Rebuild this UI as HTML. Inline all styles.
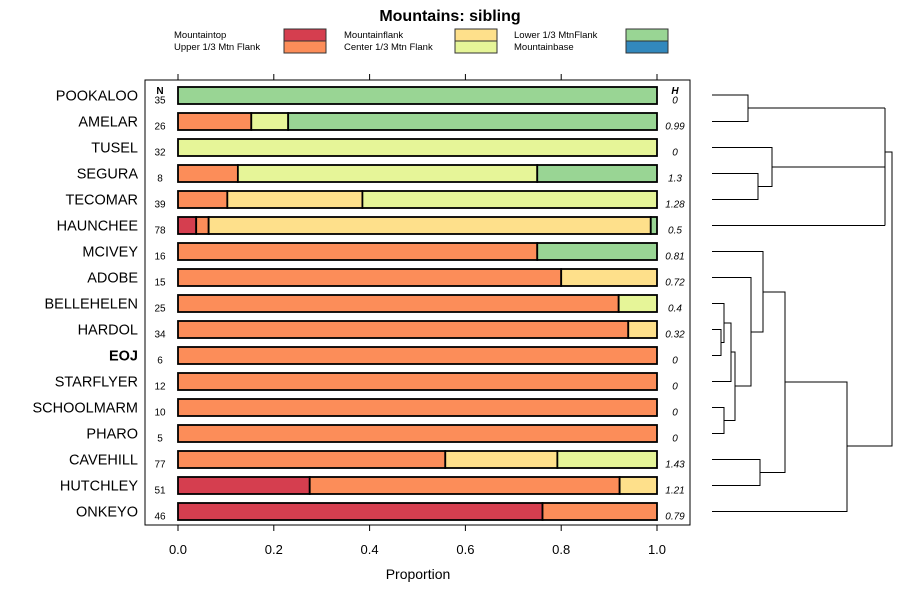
<!DOCTYPE html>
<html><head><meta charset="utf-8"><style>
body{margin:0;background:#fff;font-family:"Liberation Sans",sans-serif}
svg text{font-family:"Liberation Sans",sans-serif}
</style></head><body>
<svg id="c" width="900" height="600" xmlns="http://www.w3.org/2000/svg">
<text x="450" y="21" font-size="16" font-weight="bold" text-anchor="middle">Mountains: sibling</text>
<g id="legend"></g>
<rect x="145" y="80" width="545" height="445" fill="none" stroke="#000"/>
<g id="axis"></g>
<g id="bars"></g>
<g id="dendro" stroke="#000" fill="none" stroke-width="1"></g>
<text x="418" y="579" font-size="14" text-anchor="middle">Proportion</text>
<text x="160" y="94" font-size="10" font-weight="bold" text-anchor="middle">N</text>
<text x="675" y="94" font-size="10" font-weight="bold" font-style="italic" text-anchor="middle">H</text>
</svg>
<script>
const categories=["Mountaintop","Upper 1/3 Mtn Flank","Mountainflank","Center 1/3 Mtn Flank","Lower 1/3 MtnFlank","Mountainbase"];
const colors=["#d53e4f","#fc8d59","#fee08b","#e6f598","#99d594","#3288bd"];
const sites=["POOKALOO","AMELAR","TUSEL","SEGURA","TECOMAR","HAUNCHEE","MCIVEY","ADOBE","BELLEHELEN","HARDOL","EOJ","STARFLYER","SCHOOLMARM","PHARO","CAVEHILL","HUTCHLEY","ONKEYO"];
const nVals=[35,26,32,8,39,78,16,15,25,34,6,12,10,5,77,51,46];
const hVals=["0","0.99","0","1.3","1.28","0.5","0.81","0.72","0.4","0.32","0","0","0","0","1.43","1.21","0.79"];
const props=[
[0,0,0,0,1,0],
[0,.153,0,.077,.77,0],
[0,0,0,1,0,0],
[0,.125,0,.625,.25,0],
[0,.103,.282,.615,0,0],
[.038,.026,.923,0,.013,0],
[0,.75,0,0,.25,0],
[0,.8,.2,0,0,0],
[0,.92,0,.08,0,0],
[0,.94,.06,0,0,0],
[0,1,0,0,0,0],
[0,1,0,0,0,0],
[0,1,0,0,0,0],
[0,1,0,0,0,0],
[0,.558,.234,.208,0,0],
[.275,.647,.078,0,0,0],
[.761,.239,0,0,0,0]];
const xTicks=[0,0.2,0.4,0.6,0.8,1.0];
const NS="http://www.w3.org/2000/svg";
const X=v=>178+v*479;
const Y=i=>95.5+i*26;
function mk(tag,attrs,parent,txt){const e=document.createElementNS(NS,tag);for(const k in attrs)e.setAttribute(k,attrs[k]);if(txt!==undefined)e.textContent=txt;parent.appendChild(e);return e;}
const lg=document.getElementById('legend');
categories.forEach((c,i)=>{
 const col=Math.floor(i/2),row=i%2;
 const lx=174+col*170, ly=38+row*12;
 const t=mk('text',{x:lx,y:ly,'font-size':9.5},lg,c);
 
 
 const r=mk('rect',{x:284+col*171,y:29+row*12,width:42,height:12,fill:colors[i],stroke:'#333'},lg);
 
 
});
const ax=document.getElementById('axis');
xTicks.forEach(v=>{
 mk('line',{x1:X(v),x2:X(v),y1:525,y2:531,stroke:'#000'},ax);
 mk('line',{x1:X(v),x2:X(v),y1:74,y2:80,stroke:'#000'},ax);
 const t=mk('text',{x:X(v),y:554,'font-size':13,'text-anchor':'middle'},ax,v.toFixed(1));
 
 
});
const bg=document.getElementById('bars');
sites.forEach((s,i)=>{
 const y=Y(i);
 const l=mk('text',{x:138,y:y+5,'font-size':14.5,'text-anchor':'end','font-weight':s==='EOJ'?'bold':'normal'},bg,s);
 
 
 const n=mk('text',{x:160,y:y+8,'font-size':10,'text-anchor':'middle'},bg,nVals[i]);
 
 
 const h=mk('text',{x:675,y:y+8,'font-size':10,'font-style':'italic','text-anchor':'middle'},bg,hVals[i]);
 
 
 let acc=0;
 props[i].forEach((p,k)=>{
  if(p<=0)return;
  const r=mk('rect',{x:X(acc),y:y-8.5,width:X(acc+p)-X(acc),height:17,fill:colors[k],stroke:'#000','stroke-width':1.8},bg);
  
  
  acc+=p;
 });
});
const dg=document.getElementById('dendro');
const segs=[
"M712,95H748V121.5H712","M748,108H885",
"M712,173.5H758V199.5H712","M712,147.5H772V186.5H758","M772,167H885",
"M712,225.5H885","M885,108V225.5",
"M712,329.5H721V355.5H712","M712,303.5H724V342.5H721","M712,381.5H731V323H724",
"M712,407.5H724V433.5H712","M731,352H735V420.5H724",
"M712,277.5H751V386H735","M712,251.5H763V332H751",
"M712,459.5H760V485.5H712","M763,292H785V472.5H760",
"M712,511.5H847V382H785","M885,152H892V446H847"];
segs.forEach(d=>{
 const p=mk('path',{d:d},dg);
 
 
});
</script>
</body></html>
